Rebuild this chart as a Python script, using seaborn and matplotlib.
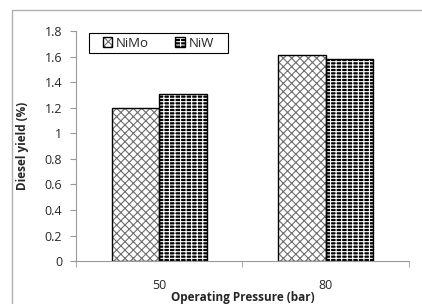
import pandas as pd
import matplotlib.pyplot as plt
import seaborn as sns
from matplotlib.patches import Patch, Rectangle
from matplotlib.legend_handler import HandlerTuple

pressures = ["50", "80"]
catalysts = ["NiMo", "NiW"]
nimo_yield = [1.20, 1.61]
niw_yield = [1.31, 1.58]
y_ticks = [0, 0.2, 0.4, 0.6, 0.8, 1, 1.2, 1.4, 1.6, 1.8]

df = pd.DataFrame({
    "pressure": pressures * 2,
    "catalyst": ["NiMo"] * 2 + ["NiW"] * 2,
    "yield": nimo_yield + niw_yield,
})

sns.set_style("white")
plt.rcParams["font.family"] = ["Open Sans", "DejaVu Sans"]
plt.rcParams["hatch.linewidth"] = 0.8

fig = plt.figure(figsize=(4.22, 3.04), dpi=100)
ax = fig.add_axes([0.180, 0.141, 0.789, 0.757])

sns.barplot(data=df, x="pressure", y="yield", hue="catalyst",
            order=pressures, hue_order=catalysts, width=0.57,
            palette=["white", "black"], legend=False, ax=ax)

styles = {"NiMo": ("white", "#6e6e6e", "xxxx"),
          "NiW": ("black", "white", "-----|||")}
for cont, cat in zip(ax.containers, catalysts):
    face, hcol, hatch = styles[cat]
    for bar in cont:
        bar.set_facecolor(face)
        bar.set_edgecolor(hcol)
        bar.set_hatch(hatch)
        bar.set_linewidth(0)
        x0, y0 = bar.get_x(), bar.get_y()
        ax.add_patch(Rectangle((x0, y0), bar.get_width(), bar.get_height(),
                               fill=False, edgecolor="black", linewidth=1.0,
                               zorder=bar.get_zorder() + 0.1))

ax.set_ylim(0, 1.8)
ax.set_xlim(-0.5, 1.5)
ax.set_yticks(y_ticks)
ax.set_yticklabels([f"{t:g}" for t in y_ticks], fontsize=9)
ax.set_xticks([0, 1])
ax.set_xticklabels(pressures, fontsize=9)
ax.set_xticks([-0.5, 0.5, 1.5], minor=True)
ax.tick_params(axis="x", which="major", length=0, pad=13)
ax.tick_params(axis="x", which="minor", length=4, color="#999999", direction="out", bottom=True)
ax.tick_params(axis="y", length=4, color="#999999", direction="out", left=True, pad=6)

for s in ["top", "right"]:
    ax.spines[s].set_visible(False)
for s in ["left", "bottom"]:
    ax.spines[s].set_color("#999999")
    ax.spines[s].set_linewidth(0.8)

ax.set_xlabel("Operating Pressure (bar)", fontsize=8.5, fontweight="bold", labelpad=-1)
ax.set_ylabel("Diesel yield (%)", fontsize=8.5, fontweight="bold", labelpad=11)

handles = []
for cat in catalysts:
    face, hcol, hatch = styles[cat]
    handles.append((Patch(facecolor=face, edgecolor=hcol, hatch=hatch, linewidth=0),
                    Patch(fill=False, edgecolor="black", linewidth=1.0)))
leg = ax.legend(handles, catalysts, ncol=2, loc="center",
                bbox_to_anchor=(0.2475, 0.9475), fontsize=9.5,
                handler_map={tuple: HandlerTuple(ndivide=1)},
                frameon=False, handlelength=0.7, handleheight=0.7,
                handletextpad=0.3, columnspacing=2.0, borderpad=0.2,
                borderaxespad=0)
ax.add_patch(Rectangle((0.039, 0.904), 0.417, 0.087, transform=ax.transAxes,
                       fill=False, edgecolor="black", linewidth=0.8, zorder=5))

fig.patches.append(Rectangle((12 / 422, -0.1), 1.1, 1.1 - 10 / 304,
                             transform=fig.transFigure, fill=False,
                             edgecolor="#b0b0b0", linewidth=1.0))

fig.savefig("out.png", dpi=100)
